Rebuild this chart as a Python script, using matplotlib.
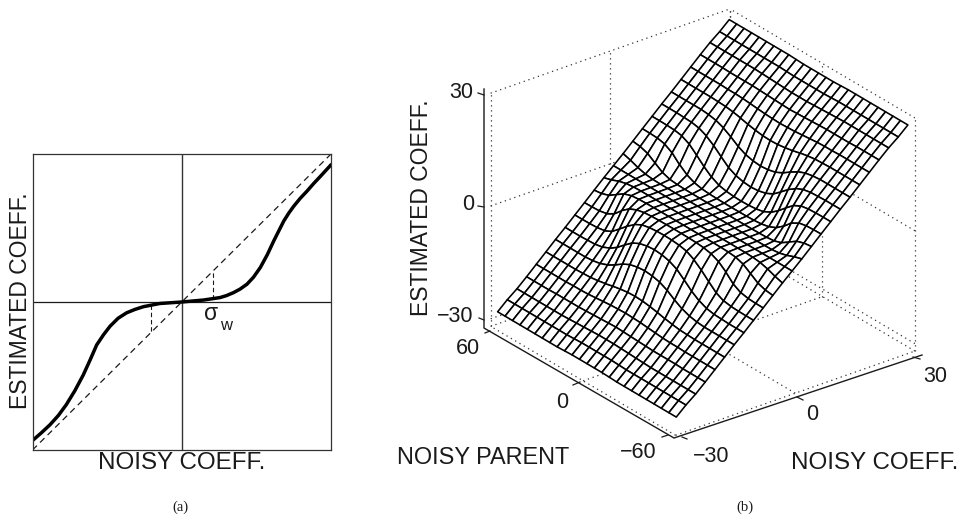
#!/usr/bin/env python3
"""Two panels: (a) coefficient estimator curve, (b) estimator surface over coefficient and parent."""
import matplotlib
matplotlib.use("Agg")
import matplotlib.pyplot as plt
import numpy as np

W, H = 960, 516
plt.rcParams.update({"font.family": "Liberation Sans", "mathtext.fontset": "dejavusans"})
INK = "#1a1a1a"

# panel (a): curve
curve_x = [-29.9, -28.2, -26.5, -24.8, -23.2, -21.5, -19.8, -18.4, -17.1, -15.7, -14.4, -12.8, -11.1, -9.4, -7.7,
           -4.4, 0, 4.4, 7.7, 9.0, 10.4, 11.7, 13.1, 14.4, 15.8, 17.2, 18.5, 19.5, 20.5, 21.5, 22.5, 23.8, 25.2,
           26.5, 27.9, 29.9]
curve_y = [-28.0, -26.5, -24.9, -23.0, -20.8, -18.0, -14.8, -11.7, -8.7, -6.6, -4.9, -3.3, -2.2, -1.5, -0.95,
           -0.3, 0, 0.4, 0.9, 1.3, 1.9, 2.6, 3.6, 5.0, 7.0, 9.6, 12.4, 14.4, 16.4, 18.0, 19.4, 21.0, 22.5,
           24.0, 25.5, 27.7]
sigma_w = 6.2

# panel (b): surface, one quarter (rows |parent| 0..60, columns coeff 0..30)
grid_index = np.arange(-12, 13)
coeff_step = 2.42
parent_step = 4.83
surface_quarter = np.array([
    [0, 0.00, 0.01, 0.13, 0.92, 3.80, 8.50, 14.4, 18.0, 20.8, 23.2, 25.5, 27.8],
    [0, 0.00, 0.01, 0.15, 0.99, 4.00, 8.70, 14.5, 18.1, 20.9, 23.2, 25.5, 27.8],
    [0, 0.00, 0.01, 0.18, 1.20, 4.50, 9.20, 14.8, 18.2, 21.0, 23.3, 25.5, 27.8],
    [0, 0.00, 0.02, 0.25, 1.63, 5.50, 10.2, 15.2, 18.4, 21.1, 23.4, 25.6, 27.9],
    [0, 0.01, 0.03, 0.44, 2.70, 7.20, 11.6, 15.7, 18.6, 21.2, 23.5, 25.7, 28.0],
    [0, 0.01, 0.06, 0.88, 4.30, 9.00, 12.8, 16.1, 18.8, 21.3, 23.6, 25.7, 28.0],
    [0, 0.02, 0.14, 1.80, 6.20, 10.4, 13.6, 16.4, 18.9, 21.3, 23.7, 25.7, 28.0],
    [0, 0.03, 0.35, 3.40, 8.00, 11.3, 14.0, 16.5, 18.9, 21.3, 23.7, 25.7, 28.0],
    [0, 0.10, 1.03, 5.40, 9.00, 11.7, 14.2, 16.6, 19.0, 21.3, 23.7, 25.7, 28.0],
    [0, 0.35, 2.38, 6.55, 9.35, 11.8, 14.2, 16.6, 19.0, 21.4, 23.7, 25.7, 28.0],
    [0, 0.90, 3.76, 6.97, 9.46, 11.9, 14.2, 16.6, 19.0, 21.4, 23.7, 25.7, 28.0],
    [0, 1.70, 4.44, 7.08, 9.50, 11.9, 14.2, 16.6, 19.0, 21.4, 23.7, 25.7, 28.0],
    [0, 2.30, 4.70, 7.12, 9.50, 11.9, 14.2, 16.6, 19.0, 21.4, 23.7, 25.7, 28.0],
])
coeff_lim = (-30, 30)
parent_lim = (-60, 60)
floor_z, top_z = -32, 31
z_ticks = [-30, 0, 30]

half = np.hstack([-surface_quarter[:, :0:-1], surface_quarter])
Z = np.vstack([half[:0:-1], half])
C, P = np.meshgrid(grid_index * coeff_step, grid_index * parent_step)

fig = plt.figure(figsize=(W / 100, H / 100), dpi=100, facecolor="white")


def axes_px(left, top, right, bottom, **kw):
    return fig.add_axes([left / W, 1 - bottom / H, (right - left) / W, (bottom - top) / H], **kw)


# ---------- (a) ----------
ax = axes_px(32.5, 154, 331, 450)
ax.plot(coeff_lim, coeff_lim, color=INK, lw=0.9, ls=(0, (5, 3.5)))
ax.axhline(0, color=INK, lw=0.9)
ax.axvline(0, color="#333333", lw=1.0)
ax.plot([sigma_w, sigma_w], [0.7, sigma_w], color=INK, lw=0.8, ls=(0, (4, 2.5)))
ax.plot([-sigma_w, -sigma_w], [-0.6, -sigma_w], color=INK, lw=0.8, ls=(0, (4, 2.5)))
ax.plot(curve_x, curve_y, color="black", lw=2.5, solid_joinstyle="round")
ax.set_xlim(coeff_lim)
ax.set_ylim(coeff_lim)
ax.set_xticks([])
ax.set_yticks([])
for s in ax.spines.values():
    s.set_linewidth(0.9)
    s.set_color("#333333")

# ---------- (b) ----------
ax3 = axes_px(446, -23, 946, 477, projection="3d", computed_zorder=False)
ax3.patch.set_alpha(0)
ax3.set_proj_type("ortho")
ax3.view_init(elev=27.1, azim=-127.7)
ax3.set_box_aspect((1, 1, 0.88), zoom=0.978)
ax3.set_xlim(coeff_lim)
ax3.set_ylim(parent_lim)
ax3.set_zlim(floor_z, top_z)
ax3.set_axis_off()

cmin, cmax = coeff_lim
pmin, pmax = parent_lim
dot = dict(color="#333333", lw=0.9, ls=(0, (1, 3)), zorder=1)
for z in z_ticks:
    ax3.plot([cmax, cmax], [pmin, pmax], [z, z], **dot)
    ax3.plot([cmin, cmax], [pmax, pmax], [z, z], **dot)
for p in (pmin, 0, pmax):
    ax3.plot([cmax, cmax], [p, p], [floor_z, z_ticks[-1]], **dot)
    ax3.plot([cmin, cmax], [p, p], [floor_z, floor_z], **dot)
for c in (cmin, 0, cmax):
    ax3.plot([c, c], [pmax, pmax], [floor_z, z_ticks[-1]], **dot)
    ax3.plot([c, c], [pmin, pmax], [floor_z, floor_z], **dot)
ax3.plot_surface(C, P, Z, rstride=1, cstride=1, color="white", edgecolor="black", linewidth=1.15,
                 shade=False, zorder=2)

# ---------- solid axes and all text, in picture pixels ----------
ov = fig.add_axes([0, 0, 1, 1], facecolor="none")
ov.set_xlim(0, W)
ov.set_ylim(H, 0)
ov.axis("off")

axis_x = [484, 484, 674, 922]
axis_y = [89, 328, 438, 355]
ov.plot(axis_x, axis_y, color=INK, lw=1.0, solid_joinstyle="miter")
tick_x0 = [478, 478, 479, 485, 573, 662, 682, 797, 913]
tick_y0 = [93, 206, 318, 333, 385, 437, 437, 397, 357]
tick_x1 = [484, 484, 484, 490, 580, 668, 687, 803, 920]
tick_y1 = [95, 207, 320, 331, 382, 435, 439, 400, 359]
for x0, y0, x1, y1 in zip(tick_x0, tick_y0, tick_x1, tick_y1):
    ov.plot([x0, x1], [y0, y1], color=INK, lw=0.9)

num_labels = ["30", "0", "\u221230", "60", "0", "\u221260", "\u221230", "0", "30"]
num_x = [461, 468.5, 455, 467.5, 562.5, 638, 711, 812.5, 935.5]
num_y = [92, 204, 317, 349, 402, 453, 457, 415, 377]
for s, x, y in zip(num_labels, num_x, num_y):
    ov.text(x, y, s, fontsize=15.5, ha="center", va="center", color=INK)

ov.text(181.5, 463, "NOISY COEFF.", fontsize=17.4, ha="center", va="center", color=INK)
ov.text(21, 301, "ESTIMATED COEFF.", fontsize=16.5, rotation=90, ha="center", va="center", color=INK)
ov.text(421, 207.5, "ESTIMATED COEFF.", fontsize=16.5, rotation=90, ha="center", va="center", color=INK)
ov.text(483.5, 457, "NOISY PARENT", fontsize=16.9, ha="center", va="center", color=INK)
ov.text(875, 463, "NOISY COEFF.", fontsize=17.4, ha="center", va="center", color=INK)
ov.text(204, 313, "\u03c3", fontsize=16.5, ha="left", va="center", color=INK)
ov.text(220, 326, "w", fontsize=12, ha="left", va="center", color=INK)
ov.text(180, 507, "(a)", fontsize=10.5, family="Liberation Serif", ha="center", va="center", color=INK)
ov.text(745, 507, "(b)", fontsize=10.5, family="Liberation Serif", ha="center", va="center", color=INK)

fig.savefig("out.png", dpi=100, facecolor="white")
